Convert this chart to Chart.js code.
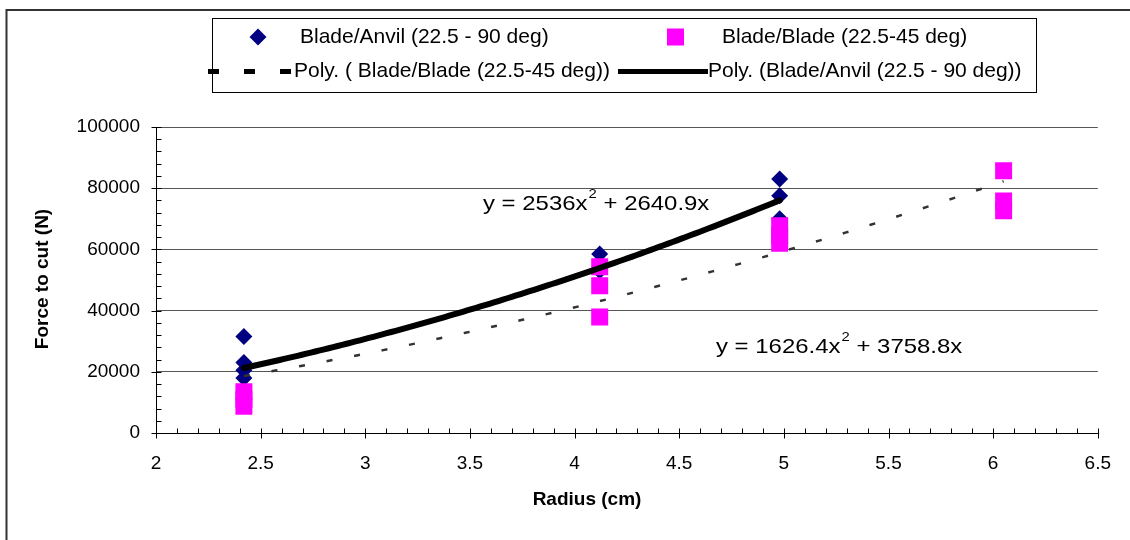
<!DOCTYPE html>
<html><head><meta charset="utf-8">
<script src="https://cdn.jsdelivr.net/npm/chart.js@4.4.0/dist/chart.umd.min.js"></script>
<style>html,body{margin:0;padding:0;background:#fff;} #wrap{width:1130px;height:540px;position:relative;}</style>
</head><body><div id="wrap"><canvas id="c" width="1130" height="540"></canvas></div>
<script>
// ---- data ----
const anvilX = [2.42, 2.42, 2.42, 2.42, 4.12, 4.12, 4.98, 4.98, 4.98];
const anvilY = [31500, 23000, 20500, 18000, 58500, 53000, 83000, 77500, 70000];
const bladeX = [2.42, 2.42, 2.42, 4.12, 4.12, 4.12, 4.98, 4.98, 4.98, 6.05, 6.05, 6.05];
const bladeY = [13500, 11000, 8700, 54300, 48100, 37900, 67700, 64500, 62000, 85700, 75800, 72600];
const anvilFit = [2536, 2640.9];      // y = a x^2 + b x
const bladeFit = [1626.4, 3758.8];
const anvilRange = [2.42, 4.98];
const bladeRange = [2.42, 6.05];
const xTickValues = [2, 2.5, 3, 3.5, 4, 4.5, 5, 5.5, 6, 6.5];
const yTickValues = [0, 20000, 40000, 60000, 80000, 100000];
const labels = {
  anvil: 'Blade/Anvil (22.5 - 90 deg)',
  blade: 'Blade/Blade (22.5-45 deg)',
  bladePoly: 'Poly. ( Blade/Blade (22.5-45 deg))',
  anvilPoly: 'Poly. (Blade/Anvil (22.5 - 90 deg))',
  xTitle: 'Radius (cm)',
  yTitle: 'Force to cut (N)'
};
const eqAnvil = ['y = 2536x', '2', ' + 2640.9x'];
const eqBlade = ['y = 1626.4x', '2', ' + 3758.8x'];

function pts(xs, ys){ return xs.map((x,i)=>({x:x, y:ys[i]})); }
function fitCurve(c, r){
  const out=[]; const n=120;
  for(let i=0;i<=n;i++){ const x=r[0]+(r[1]-r[0])*i/n; out.push({x:x, y:c[0]*x*x + c[1]*x}); }
  return out;
}

const FONT = '"Liberation Sans", Arial, sans-serif';

const deco = {
  id:'deco',
  afterDraw(chart){
    const ctx=chart.ctx, xs=chart.scales.x, ys=chart.scales.y;
    const L=xs.left, R=xs.right, T=ys.top, B=ys.bottom;
    ctx.save();
    // outer frame (top & left visible)
    ctx.strokeStyle='#333'; ctx.lineWidth=2;
    ctx.beginPath(); ctx.moveTo(6,10); ctx.lineTo(1130,10); ctx.moveTo(6.5,9); ctx.lineTo(6.5,540); ctx.stroke();
    // axes
    ctx.strokeStyle='#000'; ctx.lineWidth=1;
    ctx.beginPath();
    const lx=Math.round(L)+0.5, by=Math.round(B)+0.5;
    ctx.moveTo(lx,T); ctx.lineTo(lx,B+1);
    ctx.moveTo(L,by); ctx.lineTo(R,by);
    const yMinor = (yTickValues[1]-yTickValues[0])/5;
    for(let v=yTickValues[0]; v<=yTickValues[yTickValues.length-1]+1; v+=yMinor){
      const y=Math.round(ys.getPixelForValue(v))+0.5;
      const major = Math.abs(v % (yMinor*5))<1;
      ctx.moveTo(major? lx-5 : lx, y); ctx.lineTo(lx+5, y);
    }
    const xMinor = (xTickValues[1]-xTickValues[0])/5;
    const nX = Math.round((xTickValues[xTickValues.length-1]-xTickValues[0])/xMinor);
    for(let i=0;i<=nX;i++){
      const v=xTickValues[0]+i*xMinor;
      const x=Math.round(xs.getPixelForValue(v))+0.5;
      const major = i%5===0;
      ctx.moveTo(x, by-5); ctx.lineTo(x, major? by+5 : by);
    }
    ctx.stroke();
    // axis titles
    ctx.fillStyle='#000';
    ctx.font='bold 19px '+FONT; ctx.textAlign='center'; ctx.textBaseline='middle';
    ctx.fillText(labels.xTitle, 587, 500);
    ctx.save(); ctx.translate(43, 279); ctx.rotate(-Math.PI/2); ctx.fillText(labels.yTitle, 0, 0); ctx.restore();
    // equations (stretched horizontally like the original)
    function eq(parts, x, y){
      ctx.save(); ctx.translate(x, y); ctx.scale(1.14, 1);
      ctx.font='21px '+FONT; ctx.textAlign='left'; ctx.textBaseline='middle';
      ctx.fillText(parts[0], 0, 0); let w=ctx.measureText(parts[0]).width;
      ctx.font='13px '+FONT; ctx.fillText(parts[1], w+1, -10); w+=ctx.measureText(parts[1]).width+1;
      ctx.font='21px '+FONT; ctx.fillText(parts[2], w, 0);
      ctx.restore();
    }
    eq(eqAnvil, 483, 204);
    eq(eqBlade, 716, 347);
    // legend
    ctx.strokeStyle='#000'; ctx.lineWidth=1;
    ctx.strokeRect(212.5, 18.5, 824, 74);
    ctx.font='21px '+FONT; ctx.textAlign='left'; ctx.textBaseline='middle';
    const r1=37, r2=71;
    ctx.fillStyle='#000080';
    ctx.beginPath(); ctx.moveTo(258, r1-8.5); ctx.lineTo(266.5, r1); ctx.lineTo(258, r1+8.5); ctx.lineTo(249.5, r1); ctx.closePath(); ctx.fill();
    ctx.fillStyle='#000'; ctx.fillText(labels.anvil, 300, r1);
    ctx.fillStyle='#FF00FF'; ctx.fillRect(667, r1-8.5, 17, 17);
    ctx.fillStyle='#000'; ctx.fillText(labels.blade, 722, r1);
    ctx.fillStyle='#000';
    [208, 244, 280].forEach(x=>ctx.fillRect(x, r2-2, 11, 5));
    ctx.fillText(labels.bladePoly, 294, r2);
    ctx.fillRect(618, r2-2, 90, 5);
    ctx.fillText(labels.anvilPoly, 708, r2);
    ctx.restore();
  }
};

new Chart(document.getElementById('c'), {
  type:'scatter',
  data:{ datasets:[
    { label: labels.anvilPoly, type:'line', data: fitCurve(anvilFit, anvilRange), borderColor:'#000', borderWidth:6,
      pointRadius:0, tension:0, fill:false, order:0, borderCapStyle:'round' },
    { label: labels.bladePoly, type:'line', data: fitCurve(bladeFit, bladeRange), borderColor:'#333', borderWidth:2.5,
      borderDash:[6,22], pointRadius:0, tension:0, fill:false, order:1 },
    { label: labels.blade, data: pts(bladeX, bladeY), pointStyle:'rect', pointRadius:12, pointHoverRadius:12,
      backgroundColor:'#FF00FF', borderWidth:0, order:2 },
    { label: labels.anvil, data: pts(anvilX, anvilY), pointStyle:'rectRot', pointRadius:8.5, pointHoverRadius:8.5,
      backgroundColor:'#000080', borderWidth:0, order:3 }
  ]},
  options:{
    responsive:false, animation:false, events:[],
    layout:{ padding:{ left:0, top:127, right:32, bottom:0 } },
    plugins:{ legend:{display:false}, tooltip:{enabled:false} },
    scales:{
      x:{ type:'linear', min:xTickValues[0], max:xTickValues[xTickValues.length-1],
        afterFit(s){ s.height=107; },
        afterBuildTicks(s){ s.ticks = xTickValues.map(v=>({value:v})); },
        grid:{ display:false, drawTicks:false }, border:{display:false},
        ticks:{ padding:19, color:'#000', font:{family:FONT, size:19}, callback:v=>String(v), maxRotation:0, autoSkip:false } },
      y:{ type:'linear', min:yTickValues[0], max:yTickValues[yTickValues.length-1],
        afterFit(s){ s.width=156; },
        afterBuildTicks(s){ s.ticks = yTickValues.map(v=>({value:v})); },
        grid:{ color:'#555', lineWidth:1, drawTicks:false }, border:{display:false},
        ticks:{ padding:16, color:'#000', font:{family:FONT, size:19}, callback:v=>String(v) } }
    }
  },
  plugins:[deco]
});
</script></body></html>
